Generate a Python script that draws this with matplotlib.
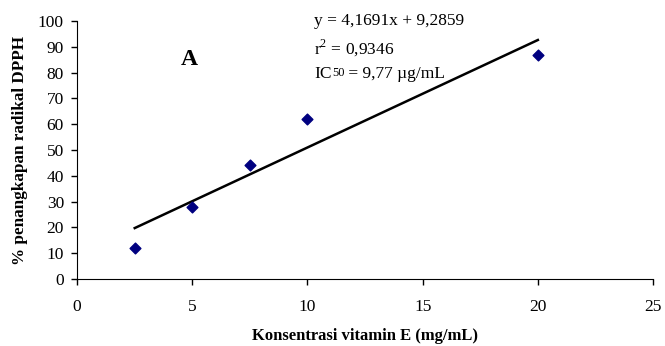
import numpy as np
import matplotlib
matplotlib.use("Agg")
import matplotlib.pyplot as plt

plt.rcParams['font.family'] = ['Liberation Serif', 'DejaVu Serif']
plt.rcParams['mathtext.fontset'] = 'custom'
plt.rcParams['mathtext.rm'] = 'Liberation Serif'

# data
konsentrasi = [2.5, 5, 7.5, 10, 20]
penangkapan = [12, 28, 44, 62, 87]
slope, intercept = 4.1691, 9.2859
xticks = [0, 5, 10, 15, 20, 25]
yticks = [0, 10, 20, 30, 40, 50, 60, 70, 80, 90, 100]

fig = plt.figure(figsize=(6.65, 3.46), dpi=100)
ax = fig.add_axes([0.116, 0.194, 0.866, 0.745])

# garis regresi
xl = np.array([min(konsentrasi), max(konsentrasi)])
ax.plot(xl, slope * xl + intercept, color='black', lw=1.8, zorder=2)
ax.scatter(konsentrasi, penangkapan, marker='D', s=30, color='#000080', zorder=3)

ax.set_xlim(0, 25)
ax.set_ylim(0, 100)
ax.set_xticks(xticks)
ax.set_yticks(yticks)
ax.tick_params(direction='out', length=4.5, width=1, labelsize=12.5, pad=10)
ax.tick_params(axis='y', pad=5)
for s in ['top', 'right']:
    ax.spines[s].set_visible(False)

ax.set_xlabel('Konsentrasi vitamin E (mg/mL)', fontsize=12, fontweight='bold', labelpad=9)
ax.set_ylabel('% penangkapan radikal DPPH', fontsize=12.3, fontweight='bold', labelpad=7)

ax.text(4.5, 85, 'A', fontsize=17, fontweight='bold', ha='left', va='center')

fs = 12.5
ax.text(10.3, 100.2, 'y = 4,1691x + 9,2859', fontsize=fs, va='center', clip_on=False)
ax.text(10.3, 89.5, 'r$^{2}$ = 0,9346', fontsize=fs, va='center')
t = ax.text(10.3, 79.5, 'IC', fontsize=fs, va='center')
t2 = ax.annotate('50', xy=(1, 0.55), xycoords=t, fontsize=9, va='center',
                 xytext=(0, 0), textcoords='offset points')
ax.annotate(' = 9,77 \u00b5g/mL', xy=(1, 0.5), xycoords=t2, fontsize=fs, va='center',
            xytext=(0, -0.6), textcoords='offset points')

fig.savefig('out.png', dpi=100)
